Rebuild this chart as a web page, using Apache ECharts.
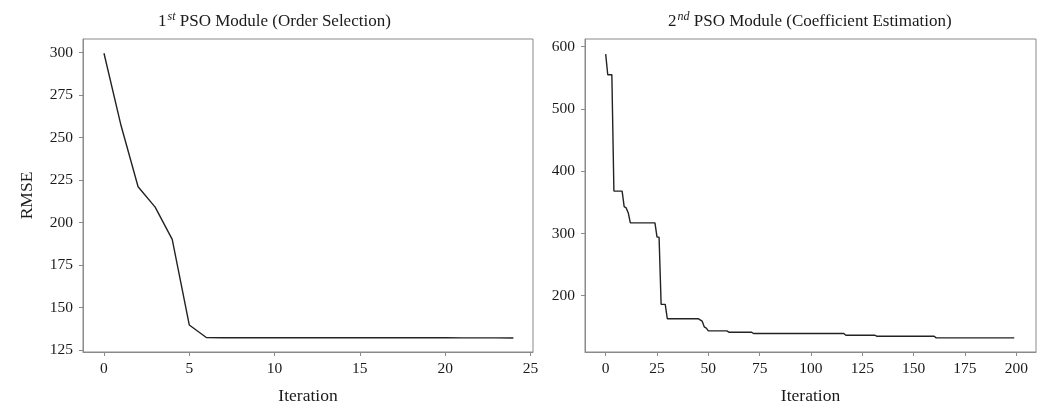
<!DOCTYPE html>
<html>
<head>
<meta charset="utf-8">
<script src="https://cdn.jsdelivr.net/npm/echarts@6/dist/echarts.min.js"></script>
<style>
  html, body { margin: 0; padding: 0; background: #fff; }
  #chart { width: 1045px; height: 405px; }
</style>
</head>
<body>
<div id="chart"></div>
<script>
// Order-selection PSO: RMSE per iteration (0..24)
const orderIterations = [0,1,2,3,4,5,6,7,8,9,10,11,12,13,14,15,16,17,18,19,20,21,22,23,24];
const orderRmse = [299.5,257,221,209,190,139.7,132.3,132.2,132.2,132.2,132.2,132.2,132.2,132.2,132.2,132.2,132.2,132.2,132.2,132.2,132.2,132.1,132.1,132.1,132.0];

// Coefficient-estimation PSO: RMSE at the iterations where the best value changes (0..199)
const coefIterations = [0,1,3,4,8,9,10,11,12,24,25,26,27,29,30,45,46,47,48,49,50,59,60,71,72,116,117,131,132,160,161,199];
const coefRmse = [588,555,555,368,368,343,341,333,317,317,294,294,186,186,163,163,161,159,150,148,143.4,143.4,141.3,141.3,139.2,139.2,136.5,136.5,134.9,134.9,132.2,132.2];

// Tick values
const orderXTicks = [0,5,10,15,20,25];
const orderYTicks = [125,150,175,200,225,250,275,300];
const coefXTicks = [0,25,50,75,100,125,150,175,200];
const coefYTicks = [200,300,400,500,600];

const FONT = '"Liberation Serif", "DejaVu Serif", serif';
const TXT = '#1a1a1a';
const FRAME = '#8a8a8a';

function pairs(xs, ys) { return xs.map((x, i) => [x, ys[i]]); }

function xAxisCfg(grid, min, max, ticks) {
  return {
    type: 'value', gridIndex: grid, min: min, max: max,
    name: 'Iteration', nameLocation: 'middle', nameGap: 35,
    nameTextStyle: { fontFamily: FONT, fontSize: 17.5, color: TXT },
    axisLine: { show: true, onZero: false, lineStyle: { color: FRAME, width: 1 } },
    axisTick: { show: true, length: 4, customValues: ticks, lineStyle: { color: FRAME } },
    axisLabel: { customValues: ticks, fontFamily: FONT, fontSize: 15.5, color: TXT, margin: 9 },
    splitLine: { show: false }
  };
}
function yAxisCfg(grid, min, max, ticks, name) {
  return {
    type: 'value', gridIndex: grid, min: min, max: max,
    name: name || '', nameLocation: 'middle', nameGap: 47,
    nameTextStyle: { fontFamily: FONT, fontSize: 17.5, color: TXT },
    axisLine: { show: true, onZero: false, lineStyle: { color: FRAME, width: 1 } },
    axisTick: { show: true, length: 4, customValues: ticks, lineStyle: { color: FRAME } },
    axisLabel: { customValues: ticks, fontFamily: FONT, fontSize: 15.5, color: TXT, margin: 10 },
    splitLine: { show: false }
  };
}

const chart = echarts.init(document.getElementById('chart'), null, { renderer: 'canvas' });

const titleRich = {
  base: { fontFamily: FONT, fontSize: 17, fontWeight: 'normal', color: TXT },
  sup: { fontFamily: FONT, fontSize: 12, fontWeight: 'normal', fontStyle: 'italic', color: TXT, padding: [0, 0, 9, 1] }
};

chart.setOption({
  animation: false,
  backgroundColor: '#fff',
  title: [
    { text: '{base|1}{sup|st}{base| PSO Module (Order Selection)}', left: 153, top: 6,
      textStyle: { fontWeight: 'normal', rich: titleRich } },
    { text: '{base|2}{sup|nd}{base| PSO Module (Coefficient Estimation)}', left: 663, top: 6,
      textStyle: { fontWeight: 'normal', rich: titleRich } }
  ],
  grid: [
    { left: 83, right: 512, top: 39, bottom: 53, show: true, borderColor: FRAME, borderWidth: 1,
      containLabel: false, outerBoundsMode: 'none' },
    { left: 585, right: 9, top: 39, bottom: 53, show: true, borderColor: FRAME, borderWidth: 1,
      containLabel: false, outerBoundsMode: 'none' }
  ],
  xAxis: [
    xAxisCfg(0, -1.23, 25.15, orderXTicks),
    xAxisCfg(1, -10.08, 209.6, coefXTicks)
  ],
  yAxis: [
    yAxisCfg(0, 123.8, 307.9, orderYTicks, 'RMSE'),
    yAxisCfg(1, 109.5, 612.4, coefYTicks)
  ],
  series: [
    { type: 'line', xAxisIndex: 0, yAxisIndex: 0, data: pairs(orderIterations, orderRmse),
      showSymbol: false, lineStyle: { color: '#222', width: 1.4 } },
    { type: 'line', xAxisIndex: 1, yAxisIndex: 1, data: pairs(coefIterations, coefRmse),
      showSymbol: false, lineStyle: { color: '#222', width: 1.4 } }
  ]
});
</script>
</body>
</html>
